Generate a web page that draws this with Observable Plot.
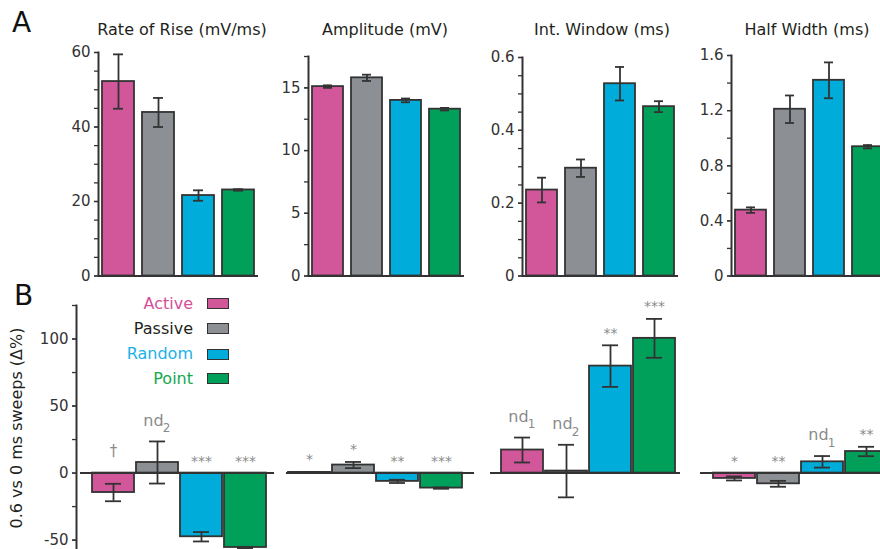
<!DOCTYPE html>
<html><head><meta charset="utf-8">
<script src="https://cdn.jsdelivr.net/npm/d3@7"></script>
<script src="https://cdn.jsdelivr.net/npm/@observablehq/plot@0.6"></script>
<style>
html,body{margin:0;padding:0;background:#fff;overflow:hidden;}
#fig{position:relative;width:880px;height:549px;overflow:hidden;font-family:"DejaVu Sans",sans-serif;color:#231f20;}
#fig svg{position:absolute;}
.lab{position:absolute;white-space:nowrap;line-height:1;}
</style></head><body><div id="fig"></div>
<script>
// ---------- data ----------
const groups = ["Active", "Passive", "Random", "Point"];
const barColors = ["#d1579a", "#8c9095", "#00acd9", "#00a05b"];
const legendTextColors = ["#d4509a", "#231f20", "#1ab1e6", "#14a84f"];

const titles = ["Rate of Rise (mV/ms)", "Amplitude (mV)", "Int. Window (ms)", "Half Width (ms)"];

const riseMean = [52.2, 43.9, 21.6, 23.1];
const riseErr  = [7.3, 3.9, 1.4, 0.2];
const ampMean  = [15.1, 15.8, 14.0, 13.3];
const ampErr   = [0.1, 0.25, 0.15, 0.1];
const winMean  = [0.236, 0.296, 0.528, 0.465];
const winErr   = [0.034, 0.024, 0.046, 0.015];
const hwMean   = [0.478, 1.21, 1.42, 0.938];
const hwErr    = [0.02, 0.1, 0.13, 0.012];

const riseMax = 60, ampMax = 17.5, winMax = 0.6, hwMax = 1.6;
const riseTicks = [0, 20, 40, 60];
const riseMinor = [0, 5, 10, 15, 20, 25, 30, 35, 40, 45, 50, 55, 60];
const ampTicks  = [0, 5, 10, 15];
const ampMinor  = [0, 2.5, 5, 7.5, 10, 12.5, 15, 17.5];
const winTicks  = [0, 0.2, 0.4, 0.6];
const winMinor  = [0, 0.05, 0.1, 0.15, 0.2, 0.25, 0.3, 0.35, 0.4, 0.45, 0.5, 0.55, 0.6];
const hwTicks   = [0, 0.4, 0.8, 1.2, 1.6];
const hwMinor   = [0, 0.2, 0.4, 0.6, 0.8, 1.0, 1.2, 1.4, 1.6];

// panel B: 0.6 vs 0 ms sweeps (Δ%)
const riseDelta    = [-14.5, 7.9, -47.5, -55.5];
const riseDeltaErr = [6.5, 15.7, 3.5, 0.5];
const ampDelta     = [0.5, 6.0, -6.2, -11.2];
const ampDeltaErr  = [0.3, 2.3, 1.2, 0.5];
const winDelta     = [17.2, 1.5, 79.8, 100.5];
const winDeltaErr  = [9.3, 19.6, 15.5, 14.5];
const hwDelta      = [-4.0, -8.0, 8.4, 16.1];
const hwDeltaErr   = [1.5, 2.2, 4.3, 3.5];

const riseSig = ["†", "nd", "***", "***"], riseSub = ["", "2", "", ""];
const ampSig  = ["*", "*", "**", "***"],   ampSub  = ["", "", "", ""];
const winSig  = ["nd", "nd", "**", "***"], winSub  = ["1", "2", "", ""];
const hwSig   = ["*", "**", "nd", "**"],   hwSub   = ["", "", "1", ""];

const deltaDomain = [-57, 125];
const deltaTicks = [-50, 0, 50, 100];
const deltaMinor = [-50, -25, 0, 25, 50, 75, 100, 125];
const deltaLabel = "0.6 vs 0 ms sweeps (Δ%)";

// ---------- helpers ----------
const rows = (m, e, s, sub) => groups.map((g, i) => ({
  group: g, value: m[i], err: e[i], sig: s ? s[i] : "", sub: sub ? sub[i] : ""
}));
const fig = document.getElementById("fig");
const INK = "#333333";
const SW = 1.8;
const FONT = '"DejaVu Sans", sans-serif';
const baseStyle = {background: "none", fontFamily: FONT, fontSize: "15px", color: "#333", overflow: "visible"};
function place(el, left, top) { el.style.left = left + "px"; el.style.top = top + "px"; fig.appendChild(el); }
function label(text, x, baseline, size, color, anchor = "start") {
  const d = document.createElement("div");
  d.className = "lab";
  d.textContent = text;
  d.style.fontSize = size + "px";
  d.style.color = color;
  d.style.left = x + "px";
  d.style.top = (baseline - 0.846 * size) + "px";
  d.style.transform = anchor === "middle" ? "translateX(-50%)" : anchor === "end" ? "translateX(-100%)" : "none";
  fig.appendChild(d);
  return d;
}
const color = {domain: groups, range: barColors};

// ---------- panel A ----------
const topPanels = [
  {title: titles[0], data: rows(riseMean, riseErr), max: riseMax, ticks: riseTicks, minor: riseMinor},
  {title: titles[1], data: rows(ampMean, ampErr), max: ampMax, ticks: ampTicks, minor: ampMinor},
  {title: titles[2], data: rows(winMean, winErr), max: winMax, ticks: winTicks, minor: winMinor},
  {title: titles[3], data: rows(hwMean, hwErr), max: hwMax, ticks: hwTicks, minor: hwMinor}
];
const topAxisX = [98, 308, 522, 731];
const topRangeW = [160, 156, 156, 156];
const topYTop = [52, 56, 57, 55];
const topYZero = 275.5;
const topTitleX = [182, 385, 602, 807];

topPanels.forEach((p, k) => {
  const ml = 45, mr = 4, H = 290;
  const svg = Plot.plot({
    width: ml + topRangeW[k] + mr, height: H,
    marginLeft: ml, marginRight: mr, marginTop: topYTop[k], marginBottom: H - topYZero,
    style: baseStyle,
    x: {domain: groups, axis: null, paddingInner: 0.2, paddingOuter: 0.1},
    y: {domain: [0, p.max]},
    color,
    marks: [
      Plot.barY(p.data, {x: "group", y: "value", fill: "group", stroke: INK, strokeWidth: SW}),
      Plot.ruleX(p.data, {x: "group", y1: d => d.value - d.err, y2: d => d.value + d.err, stroke: INK, strokeWidth: SW}),
      Plot.tickY(p.data, {x: "group", y: d => d.value + d.err, stroke: INK, strokeWidth: SW, insetLeft: 11, insetRight: 11}),
      Plot.tickY(p.data, {x: "group", y: d => d.value - d.err, stroke: INK, strokeWidth: SW, insetLeft: 11, insetRight: 11}),
      Plot.ruleY([0], {stroke: INK, strokeWidth: 2}),
      Plot.frame({anchor: "left", stroke: INK, strokeWidth: 2}),
      Plot.axisY({ticks: p.minor, tickSize: 4, tickFormat: () => "", stroke: INK, strokeWidth: 1.3, label: null}),
      Plot.axisY({ticks: p.ticks, tickSize: 4, tickPadding: 4, fontSize: 15, stroke: INK, fill: "#333", strokeWidth: 1.3, label: null, tickFormat: d => String(d)})
    ]
  });
  place(svg, topAxisX[k] - ml, 0);
  label(p.title, topTitleX[k], 36, 16, "#231f20", "middle");
});

// ---------- panel B ----------
const bottomPanels = [
  rows(riseDelta, riseDeltaErr, riseSig, riseSub),
  rows(ampDelta, ampDeltaErr, ampSig, ampSub),
  rows(winDelta, winDeltaErr, winSig, winSub),
  rows(hwDelta, hwDeltaErr, hwSig, hwSub)
];
const bRange = [[80, 274], [286, 474], [490, 680], [700, 890]];
const bAlign = [0.61, 0.11, 0.70, 0.82];
const bAxisX = 76, bTop = 300, bH = 249, bMT = 5;
const step = 44, pIn = 0.04;
const ANN = "#8a8a8a";

bottomPanels.forEach((data, k) => {
  const [a, b] = bRange[k];
  const svgLeft = k === 0 ? 0 : a;
  const ml = k === 0 ? bAxisX : 0;
  const width = b - svgLeft + 2;
  const pOut = ((b - a) / step - 4 + pIn) / 2;
  const hi = d => Math.max(d.value + d.err, 0);
  const starData = data.filter(d => d.sig.startsWith("*"));
  const ndData = data.filter(d => d.sig === "nd");
  const dagData = data.filter(d => d.sig === "†");
  const marks = [
    Plot.barY(data, {x: "group", y: "value", fill: "group", stroke: INK, strokeWidth: SW}),
    Plot.ruleX(data, {x: "group", y1: d => d.value - d.err, y2: d => d.value + d.err, stroke: INK, strokeWidth: SW}),
    Plot.tickY(data, {x: "group", y: d => d.value + d.err, stroke: INK, strokeWidth: SW, insetLeft: 13, insetRight: 13}),
    Plot.tickY(data, {x: "group", y: d => d.value - d.err, stroke: INK, strokeWidth: SW, insetLeft: 13, insetRight: 13}),
    Plot.ruleY([0], {stroke: INK, strokeWidth: 2, insetLeft: k === 0 ? a - bAxisX : 0}),
    Plot.text(starData, {x: "group", y: hi, text: "sig", dy: -12, fontSize: 14, fill: ANN}),
    Plot.text(ndData, {x: "group", y: hi, text: "sig", dy: -21, dx: -4, fontSize: 16, fill: ANN}),
    Plot.text(ndData, {x: "group", y: hi, text: "sub", dy: -13, dx: 9, fontSize: 12, fill: ANN}),
    Plot.text(dagData, {x: "group", y: hi, text: "sig", dy: -22, fontSize: 15, fill: ANN})
  ];
  if (k === 0) {
    marks.push(
      Plot.frame({anchor: "left", stroke: INK, strokeWidth: 2}),
      Plot.axisY({ticks: deltaMinor, tickSize: 4, tickFormat: () => "", stroke: INK, strokeWidth: 1.3, label: null}),
      Plot.axisY({ticks: deltaTicks, tickSize: 4, tickPadding: 4, fontSize: 15, stroke: INK, fill: "#333", strokeWidth: 1.3, label: null, tickFormat: d => String(d)})
    );
  }
  const svg = Plot.plot({
    width, height: bH,
    marginLeft: ml, marginRight: 2, marginTop: bMT, marginBottom: 0,
    style: baseStyle,
    x: {domain: groups, axis: null, range: [a - svgLeft, b - svgLeft], paddingInner: pIn, paddingOuter: pOut, align: bAlign[k]},
    y: {domain: deltaDomain, axis: k === 0 ? undefined : null},
    color,
    marks
  });
  place(svg, svgLeft, bTop);
});

// y label
const yl = label(deltaLabel, 17, 434, 16, "#231f20");
yl.style.left = "17px";
yl.style.top = "428px";
yl.style.transform = "translate(-50%,-50%) rotate(-90deg)";

// legend
const legRowY = [303.5, 328.5, 354, 378.5];
groups.forEach((g, i) => {
  label(g, 193, legRowY[i] + 5.8, 16, legendTextColors[i], "end");
  const sw = document.createElement("div");
  sw.style.cssText = `position:absolute;left:207px;top:${legRowY[i] - 5.5}px;width:22px;height:11px;box-sizing:border-box;background:${barColors[i]};border:1.7px solid ${INK};`;
  fig.appendChild(sw);
});

// panel letters
label("A", 12, 33, 28, "#111");
label("B", 14, 306, 28, "#111");
</script>
</body></html>
